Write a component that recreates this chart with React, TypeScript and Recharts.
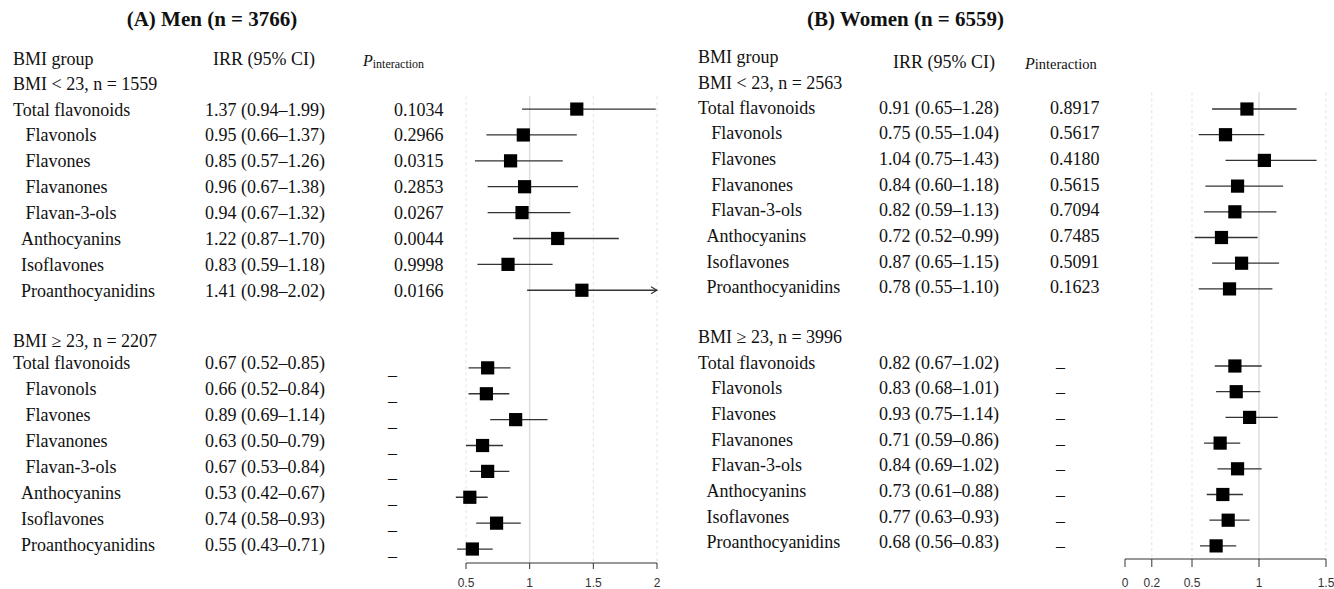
import React from 'react';
import { ScatterChart, Scatter, XAxis, YAxis, ErrorBar, ReferenceLine } from 'recharts';

const ITEMS = [
  'Total flavonoids',
  'Flavonols',
  'Flavones',
  'Flavanones',
  'Flavan-3-ols',
  'Anthocyanins',
  'Isoflavones',
  'Proanthocyanidins',
];

// men, BMI < 23
const MEN_LOW_EST = [1.37, 0.95, 0.85, 0.96, 0.94, 1.22, 0.83, 1.41];
const MEN_LOW_LO = [0.94, 0.66, 0.57, 0.67, 0.67, 0.87, 0.59, 0.98];
const MEN_LOW_HI = [1.99, 1.37, 1.26, 1.38, 1.32, 1.7, 1.18, 2.02];
const MEN_LOW_P = ['0.1034', '0.2966', '0.0315', '0.2853', '0.0267', '0.0044', '0.9998', '0.0166'];
// men, BMI >= 23
const MEN_HIGH_EST = [0.67, 0.66, 0.89, 0.63, 0.67, 0.53, 0.74, 0.55];
const MEN_HIGH_LO = [0.52, 0.52, 0.69, 0.5, 0.53, 0.42, 0.58, 0.43];
const MEN_HIGH_HI = [0.85, 0.84, 1.14, 0.79, 0.84, 0.67, 0.93, 0.71];

// women, BMI < 23
const WOMEN_LOW_EST = [0.91, 0.75, 1.04, 0.84, 0.82, 0.72, 0.87, 0.78];
const WOMEN_LOW_LO = [0.65, 0.55, 0.75, 0.6, 0.59, 0.52, 0.65, 0.55];
const WOMEN_LOW_HI = [1.28, 1.04, 1.43, 1.18, 1.13, 0.99, 1.15, 1.1];
const WOMEN_LOW_P = ['0.8917', '0.5617', '0.4180', '0.5615', '0.7094', '0.7485', '0.5091', '0.1623'];
// women, BMI >= 23
const WOMEN_HIGH_EST = [0.82, 0.83, 0.93, 0.71, 0.84, 0.73, 0.77, 0.68];
const WOMEN_HIGH_LO = [0.67, 0.68, 0.75, 0.59, 0.69, 0.61, 0.63, 0.56];
const WOMEN_HIGH_HI = [1.02, 1.01, 1.14, 0.86, 1.02, 0.88, 0.93, 0.83];

const MEN_TICKS = [0.5, 1, 1.5, 2];
const WOMEN_TICKS = [0, 0.2, 0.5, 1, 1.5];

const SERIF = '"Liberation Serif", "Times New Roman", serif';
const SANS = '"Liberation Sans", Arial, sans-serif';
const INDENT = [0, 12.5, 12.5, 12.5, 12.5, 8, 8, 8];

const fmt = (v: number) => v.toFixed(2);

function buildRows(est, lo, hi, p, est2, lo2, hi2, n1, n2) {
  const rows: any[] = [{ row: 0, kind: 'head' }, { row: 1, kind: 'group', text: `BMI < 23, n = ${n1}` }];
  ITEMS.forEach((name, i) =>
    rows.push({ row: 2 + i, kind: 'item', part: 1, i, name, est: est[i], lo: lo[i], hi: hi[i], p: p[i] })
  );
  rows.push({ row: 11, kind: 'group', part: 2, text: `BMI \u2265 23, n = ${n2}` });
  ITEMS.forEach((name, i) =>
    rows.push({ row: 12 + i, kind: 'item', part: 2, i, name, est: est2[i], lo: lo2[i], hi: hi2[i], p: null })
  );
  return rows;
}

const menRows = buildRows(MEN_LOW_EST, MEN_LOW_LO, MEN_LOW_HI, MEN_LOW_P, MEN_HIGH_EST, MEN_HIGH_LO, MEN_HIGH_HI, 1559, 2207);
const womenRows = buildRows(WOMEN_LOW_EST, WOMEN_LOW_LO, WOMEN_LOW_HI, WOMEN_LOW_P, WOMEN_HIGH_EST, WOMEN_HIGH_LO, WOMEN_HIGH_HI, 2563, 3996);

const Square = (props: any) => {
  const { cx, cy } = props;
  if (cx == null || cy == null) return null;
  return <rect x={cx - 6.6} y={cy - 6.6} width={13.2} height={13.2} fill="#000" />;
};

const Arrow = (props: any) => {
  const { cx, cy } = props;
  if (cx == null || cy == null) return null;
  return <path d={`M${cx - 6},${cy - 3.5} L${cx},${cy} L${cx - 6},${cy + 3.5}`} stroke="#333" strokeWidth={1.1} fill="none" />;
};

const RowTick = ({ y, payload, rows, cols }: any) => {
  const r = rows.find((d) => d.row === payload.value);
  if (!r) return null;
  const txt = { fontFamily: SERIF, fontSize: 18, fill: '#111' };
  if (r.kind === 'head') {
    return (
      <g>
        <text x={cols.label} y={y + cols.headOff} {...txt}>BMI group</text>
        <text x={cols.irrHead} y={y + cols.irrHeadOff} {...txt}>IRR (95% CI)</text>
        <text x={cols.pHead} y={y + cols.pHeadOff} fontFamily={SERIF} fill="#111">
          <tspan fontStyle="italic" fontSize={cols.pSize}>P</tspan>
          <tspan fontSize={cols.subSize} dy={cols.subDy}>interaction</tspan>
        </text>
      </g>
    );
  }
  if (r.kind === 'group') {
    return <text x={cols.label} y={y + (r.part === 2 ? cols.group2Off : cols.group1Off)} {...txt}>{r.text}</text>;
  }
  const off = r.part === 2 ? cols.lowerOff : cols.upperOff;
  return (
    <g>
      <text x={cols.label + INDENT[r.i] * cols.indent} y={y + off} {...txt}>{r.name}</text>
      <text x={cols.irr} y={y + off} {...txt}>{`${fmt(r.est)} (${fmt(r.lo)}\u2013${fmt(r.hi)})`}</text>
      {r.p ? (
        <text x={cols.p} y={y + off} {...txt}>{r.p}</text>
      ) : (
        <text x={cols.dash} y={y + cols.dashOff} {...txt}>{'\u2013'}</text>
      )}
    </g>
  );
};

function ForestPanel({ rows, ticks, cfg, cols, title }: any) {
  const points = rows
    .filter((r) => r.kind === 'item')
    .map((r) => ({ row: r.row, est: r.est, err: [r.est - r.lo, Math.min(r.hi, cfg.cap) - r.est] }));
  const arrows = rows
    .filter((r) => r.kind === 'item' && r.hi > cfg.cap)
    .map((r) => ({ row: r.row, est: cfg.cap }));
  const yMax = cfg.yDomain[1];
  return (
    <div style={{ position: 'absolute', left: cfg.left, top: 0, width: cfg.width, height: 589 }}>
      <div
        style={{
          position: 'absolute',
          left: cfg.titleCenter - 200,
          width: 400,
          top: 9,
          textAlign: 'center',
          fontFamily: SERIF,
          fontWeight: 'bold',
          fontSize: 21,
          lineHeight: '21px',
          color: '#111',
        }}
      >
        {title}
      </div>
      <ScatterChart
        width={cfg.width}
        height={589}
        margin={{ top: cfg.top, right: cfg.width - cfg.plotRight, bottom: 0, left: 0 }}
      >
        <XAxis
          type="number"
          dataKey="est"
          domain={cfg.xDomain}
          ticks={ticks}
          interval={0}
          axisLine={false}
          tickLine={{ stroke: '#333' }}
          tickSize={cfg.tickSize}
          tickMargin={cfg.tickMargin}
          height={589 - cfg.axisY}
          tick={{ fontSize: 12, fill: '#333', fontFamily: SANS }}
        />
        <YAxis
          type="number"
          dataKey="row"
          reversed
          domain={cfg.yDomain}
          ticks={rows.map((r) => r.row)}
          interval={0}
          width={cfg.plotLeft}
          axisLine={false}
          tickLine={false}
          tick={(p) => <RowTick {...p} rows={rows} cols={cols} />}
        />
        {cfg.dashed.map((g) => (
          <ReferenceLine
            key={`d${g}`}
            segment={[{ x: g, y: cfg.gridTop }, { x: g, y: yMax }]}
            stroke="#e2e2e2"
            strokeDasharray="3 3"
            ifOverflow="visible"
          />
        ))}
        <ReferenceLine
          segment={[{ x: 1, y: cfg.gridTop }, { x: 1, y: yMax }]}
          stroke="#dcdcdc"
          strokeWidth={1.4}
          ifOverflow="visible"
        />
        <ReferenceLine
          segment={[{ x: ticks[0], y: yMax }, { x: ticks[ticks.length - 1], y: yMax }]}
          stroke="#333"
          strokeWidth={1}
          ifOverflow="visible"
        />
        <Scatter data={points} shape={<Square />} isAnimationActive={false}>
          <ErrorBar dataKey="err" direction="x" width={0} stroke="#333" strokeWidth={1.3} />
        </Scatter>
        <Scatter data={arrows} shape={<Arrow />} isAnimationActive={false} />
      </ScatterChart>
    </div>
  );
}

const MEN_CFG = {
  left: 0,
  width: 670,
  plotLeft: 453.27,
  plotRight: 663.37,
  top: 41.8,
  axisY: 563,
  xDomain: [0.4, 2.05],
  yDomain: [-0.6, 19.54],
  cap: 2,
  gridTop: 1.5,
  dashed: [0.5, 1.5, 2],
  tickSize: 6,
  tickMargin: 9,
  titleCenter: 212,
};

const WOMEN_CFG = {
  left: 680,
  width: 654,
  plotLeft: 445,
  plotRight: 646,
  top: 42.2,
  axisY: 559,
  xDomain: [0, 1.5],
  yDomain: [-0.6, 19.51],
  cap: 1.5,
  gridTop: 1.35,
  dashed: [0.2, 0.5, 1.5],
  tickSize: 8,
  tickMargin: 11,
  titleCenter: 225.5,
};

const MEN_COLS = {
  label: 13, irr: 205, p: 394, dash: 388, irrHead: 213, pHead: 363, indent: 1,
  headOff: 7.5, irrHeadOff: 7.5, pHeadOff: 9, pSize: 16, subSize: 12, subDy: 2,
  group1Off: 6.5, group2Off: 5, upperOff: 6.5, lowerOff: 1.5, dashOff: 13,
};

const WOMEN_COLS = {
  label: 18, irr: 199, p: 370, dash: 376, irrHead: 213, pHead: 345, indent: 1.05,
  headOff: 5.5, irrHeadOff: 10.5, pHeadOff: 11.5, pSize: 16, subSize: 14.5, subDy: 0,
  group1Off: 5.7, group2Off: 3, upperOff: 4.5, lowerOff: 2.5, dashOff: 6.5,
};

export default function App() {
  return (
    <div style={{ position: 'absolute', left: 0, top: 0, width: 1334, height: 589, background: '#fff', overflow: 'hidden' }}>
      <ForestPanel rows={menRows} ticks={MEN_TICKS} cfg={MEN_CFG} cols={MEN_COLS} title="(A) Men (n = 3766)" />
      <ForestPanel rows={womenRows} ticks={WOMEN_TICKS} cfg={WOMEN_CFG} cols={WOMEN_COLS} title="(B) Women (n = 6559)" />
    </div>
  );
}
